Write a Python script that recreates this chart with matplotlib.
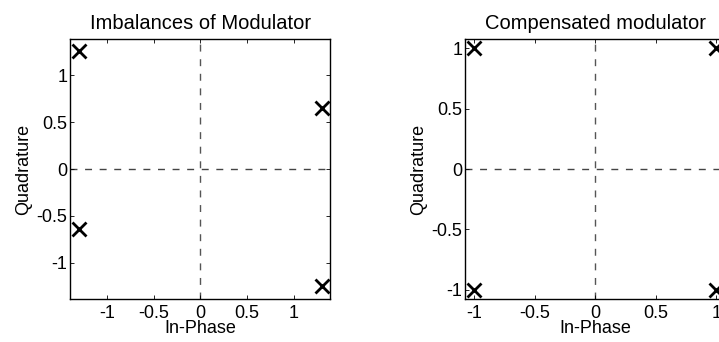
import matplotlib
matplotlib.use('Agg')
import matplotlib.pyplot as plt

# Constellation points
imb_i = [-1.3, 1.3, -1.3, 1.3]
imb_q = [1.26, 0.65, -0.64, -1.25]

comp_i = [-1.0, 1.0, -1.0, 1.0]
comp_q = [1.0, 1.0, -1.0, -1.0]

ticks = [-1, -0.5, 0, 0.5, 1]
tick_labels = ['-1', '-0.5', '0', '0.5', '1']

plt.rcParams['font.family'] = ['Liberation Sans', 'DejaVu Sans']

fig = plt.figure(figsize=(7.19, 3.42), dpi=100)

W = 260 / 719
H = 260 / 342
ax1 = fig.add_axes([70.3 / 719, 43 / 342, W, H])
ax2 = fig.add_axes([465.3 / 719, 43 / 342, W, H])


def style_axes(ax, lim, title):
    ax.set_xlim(-lim, lim)
    ax.set_ylim(-lim, lim)
    ax.axhline(0, color='#444444', lw=1, dashes=(5, 5.5), zorder=1)
    ax.axvline(0, color='#555555', lw=1, dashes=(5, 5.5), zorder=1)
    ax.set_xticks(ticks)
    ax.set_xticklabels(tick_labels)
    ax.set_yticks(ticks)
    ax.set_yticklabels(tick_labels)
    ax.tick_params(direction='in', length=3, width=0.6, top=True, right=True,
                   labelsize=13)
    ax.tick_params(axis='x', pad=4)
    ax.tick_params(axis='y', pad=2)
    for s in ax.spines.values():
        s.set_linewidth(1.0)
    ax.set_xlabel('In-Phase', fontsize=13, labelpad=-1)
    ax.set_ylabel('Quadrature', fontsize=13, labelpad=3)
    ax.set_title(title, fontsize=14.5, pad=7)


ax1.plot(imb_i, imb_q, 'x', color='black', ms=10, mew=2, zorder=3, clip_on=False)
style_axes(ax1, 1.39, 'Imbalances of Modulator')

ax2.plot(comp_i, comp_q, 'x', color='black', ms=10, mew=2, zorder=3, clip_on=False)
style_axes(ax2, 1.075, 'Compensated modulator')

fig.savefig('out.png', dpi=100)
